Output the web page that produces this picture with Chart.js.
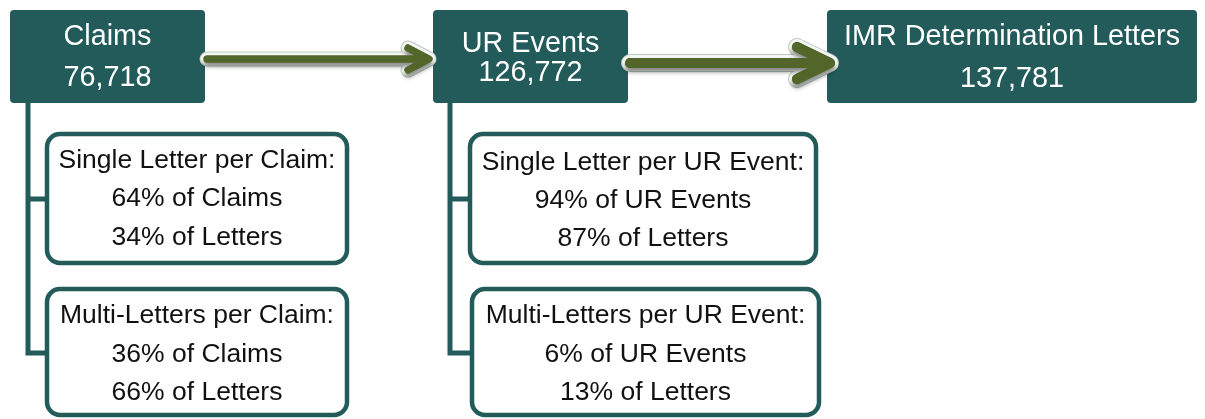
<!DOCTYPE html>
<html>
<head>
<meta charset="utf-8">
<script src="https://cdn.jsdelivr.net/npm/chart.js@4.4.1/dist/chart.umd.min.js"></script>
<style>
  html, body { margin: 0; padding: 0; background: #ffffff; }
  #wrap { position: relative; width: 1205px; height: 419px; }
</style>
</head>
<body>
<div id="wrap"><canvas id="c"></canvas></div>
<script>
// ---------------- DATA ----------------
const stageNames = ['Claims', 'UR Events', 'IMR Determination Letters'];
const stageCounts = [76718, 126772, 137781];
const splitUnits = ['Claim', 'UR Event'];
const splitUnitsPlural = ['Claims', 'UR Events'];
const singleShareOfUnits = [64, 94];
const singleShareOfLetters = [34, 87];
const multiShareOfUnits = [36, 6];
const multiShareOfLetters = [66, 13];

// ---------------- LAYOUT (diagram coordinate space) ----------------
const TEAL = '#225b5a';
const OLIVE = '#536629';
const stageBoxes = [
  { x0: 10, x1: 205, y0: 10, y1: 103, base: [45, 86] },
  { x0: 433, x1: 628, y0: 10, y1: 103, base: [52, 81] },
  { x0: 827, x1: 1197, y0: 10, y1: 103, base: [45, 87] }
];
const arrows = [
  { x0: 207, x1: 429, back: 408, y: 59, half: 11, w: 7 },
  { x0: 630, x1: 830, back: 797, y: 63, half: 16, w: 10 }
];
const subCols = [
  { trunk: 28, boxes: [ { x0: 47, x1: 347, y0: 134, y1: 263, base: [168, 206, 245] },
                        { x0: 47, x1: 347, y0: 289, y1: 415, base: [323, 362, 400] } ] },
  { trunk: 450, boxes: [ { x0: 470, x1: 816, y0: 134, y1: 263, base: [170, 208, 246] },
                         { x0: 472, x1: 819, y0: 289, y1: 415, base: [323, 362, 400] } ] }
];

function fmt(n) { return n.toLocaleString('en-US'); }

function rrect(ctx, x, y, w, h, r) {
  ctx.beginPath();
  ctx.moveTo(x + r, y);
  ctx.lineTo(x + w - r, y);
  ctx.arcTo(x + w, y, x + w, y + r, r);
  ctx.lineTo(x + w, y + h - r);
  ctx.arcTo(x + w, y + h, x + w - r, y + h, r);
  ctx.lineTo(x + r, y + h);
  ctx.arcTo(x, y + h, x, y + h - r, r);
  ctx.lineTo(x, y + r);
  ctx.arcTo(x, y, x + r, y, r);
  ctx.closePath();
}

const diagramPlugin = {
  id: 'diagram',
  afterDatasetsDraw(chart) {
    const ctx = chart.ctx;
    const sx = chart.scales.x, sy = chart.scales.y;
    const X = v => sx.getPixelForValue(v);
    const Y = v => sy.getPixelForValue(v);
    const k = (X(100) - X(0)) / 100;

    ctx.save();
    // connectors
    ctx.strokeStyle = TEAL;
    ctx.lineWidth = 5 * k;
    ctx.lineCap = 'butt';
    subCols.forEach((col, i) => {
      const top = stageBoxes[i].y1;
      const b1 = col.boxes[0], b2 = col.boxes[1];
      const yA = (b1.y0 + b1.y1) / 2 + 0.5, yB = 353;
      ctx.beginPath();
      ctx.moveTo(X(col.trunk), Y(top));
      ctx.lineTo(X(col.trunk), Y(yB));
      ctx.lineTo(X(b2.x0), Y(yB));
      ctx.moveTo(X(col.trunk), Y(yA));
      ctx.lineTo(X(b1.x0), Y(yA));
      ctx.stroke();
    });

    // stage boxes
    stageBoxes.forEach((b, i) => {
      ctx.fillStyle = TEAL;
      rrect(ctx, X(b.x0), Y(b.y0), X(b.x1) - X(b.x0), Y(b.y1) - Y(b.y0), 4 * k);
      ctx.fill();
      ctx.fillStyle = '#ffffff';
      ctx.font = (28.8 * k) + 'px "Liberation Sans", Arial, sans-serif';
      ctx.textAlign = 'center';
      ctx.textBaseline = 'alphabetic';
      const cx = X((b.x0 + b.x1) / 2);
      ctx.fillText(stageNames[i], cx, Y(b.base[0]));
      ctx.fillText(fmt(stageCounts[i]), cx, Y(b.base[1]));
    });

    // arrows
    arrows.forEach(a => {
      const path = () => {
        ctx.beginPath();
        ctx.moveTo(X(a.x0), Y(a.y));
        ctx.lineTo(X(a.x1 - a.w * 0.4), Y(a.y));
        ctx.moveTo(X(a.back), Y(a.y - a.half));
        ctx.lineTo(X(a.x1), Y(a.y));
        ctx.lineTo(X(a.back), Y(a.y + a.half));
      };
      ctx.lineCap = 'round';
      ctx.lineJoin = 'round';
      // glow outline
      path();
      ctx.strokeStyle = '#b9c9bd';
      ctx.lineWidth = (a.w + 8) * k;
      ctx.stroke();
      path();
      ctx.strokeStyle = '#f4f7f3';
      ctx.lineWidth = (a.w + 6) * k;
      ctx.stroke();
      // shadow
      ctx.save();
      ctx.shadowColor = 'rgba(0,0,0,0.45)';
      ctx.shadowBlur = 4 * k;
      ctx.shadowOffsetY = 4 * k;
      path();
      ctx.strokeStyle = OLIVE;
      ctx.lineWidth = a.w * k;
      ctx.stroke();
      ctx.restore();
      path();
      ctx.strokeStyle = OLIVE;
      ctx.lineWidth = a.w * k;
      ctx.stroke();
    });

    // sub boxes
    subCols.forEach((col, i) => {
      const texts = [
        ['Single Letter per ' + splitUnits[i] + ':',
         singleShareOfUnits[i] + '% of ' + splitUnitsPlural[i],
         singleShareOfLetters[i] + '% of Letters'],
        ['Multi-Letters per ' + splitUnits[i] + ':',
         multiShareOfUnits[i] + '% of ' + splitUnitsPlural[i],
         multiShareOfLetters[i] + '% of Letters']
      ];
      col.boxes.forEach((b, j) => {
        rrect(ctx, X(b.x0), Y(b.y0), X(b.x1) - X(b.x0), Y(b.y1) - Y(b.y0), 13 * k);
        ctx.fillStyle = '#ffffff';
        ctx.fill();
        ctx.strokeStyle = TEAL;
        ctx.lineWidth = 4.5 * k;
        ctx.stroke();
        ctx.fillStyle = '#111111';
        ctx.font = (26.5 * k) + 'px "Liberation Sans", Arial, sans-serif';
        ctx.textAlign = 'center';
        ctx.textBaseline = 'alphabetic';
        const cx = X((b.x0 + b.x1) / 2);
        texts[j].forEach((t, m) => ctx.fillText(t, cx, Y(b.base[m])));
      });
    });
    ctx.restore();
  }
};

new Chart(document.getElementById('c'), {
  type: 'scatter',
  data: { datasets: [{ label: 'stages', data: [], pointRadius: 0 }] },
  options: {
    responsive: true,
    maintainAspectRatio: false,
    animation: false,
    events: [],
    layout: { padding: 0 },
    plugins: { legend: { display: false }, tooltip: { enabled: false }, title: { display: false } },
    scales: {
      x: { type: 'linear', min: 0, max: 1205, display: false },
      y: { type: 'linear', min: 0, max: 419, reverse: true, display: false }
    }
  },
  plugins: [diagramPlugin]
});
</script>
</body>
</html>
